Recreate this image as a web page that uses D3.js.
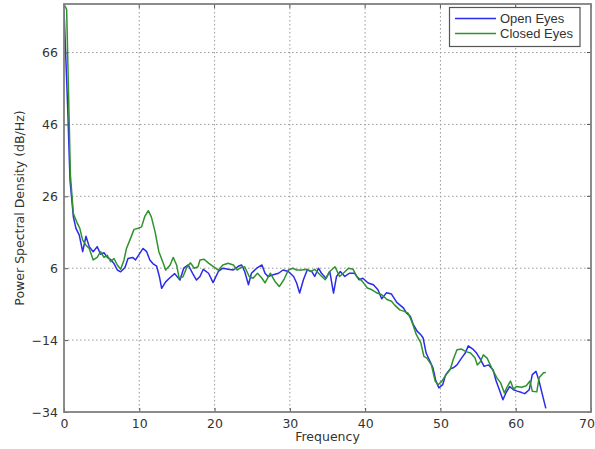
<!DOCTYPE html>
<html>
<head>
<meta charset="utf-8">
<script src="https://cdn.jsdelivr.net/npm/d3@7"></script>
<style>
  html, body { margin: 0; padding: 0; background: #fff; }
  svg { display: block; }
  .tick text { font-family: "DejaVu Sans", sans-serif; font-size: 12.5px; fill: #333; }
</style>
</head>
<body>
<svg id="chart" width="595" height="449"></svg>
<script>
// Welch PSD estimates, frequency in Hz, power in dB/Hz
const openFreq = [0, 0.5, 0.8, 1.24, 1.59, 2.03, 2.48, 2.92, 3.35, 3.88, 4.41, 4.86, 5.31, 5.75, 6.2, 6.64, 7.08, 7.53, 8.1, 8.5, 9.1, 9.5, 10, 10.5, 10.98, 11.4, 11.8, 12.3, 12.7, 12.97, 13.5, 14.1, 14.7, 15.4, 15.9, 16.5, 17.1, 17.6, 18.06, 18.5, 19.2, 19.8, 20.5, 21.1, 21.8, 22.5, 23.2, 23.6, 24.0, 24.5, 24.9, 25.6, 26.3, 26.7, 27.1, 27.8, 28.5, 29.1, 29.8, 30.5, 30.9, 31.3, 31.8, 32.3, 32.9, 33.3, 33.8, 34.2, 34.8, 35.3, 35.8, 36.2, 36.7, 37.3, 37.9, 38.6, 39.2, 39.7, 40.4, 41.1, 41.7, 42.2, 42.85, 43.5, 44.2, 44.6, 45.1, 45.5, 46.0, 46.4, 46.9, 47.4, 47.7, 48.1, 48.5, 49.0, 49.4, 49.8, 50.3, 50.7, 51.3, 51.7, 52.2, 52.8, 53.3, 53.7, 54.3, 54.8, 55.3, 55.8, 56.4, 57.0, 57.4, 57.9, 58.3, 58.7, 59.2, 59.7, 60.2, 60.8, 61.2, 61.8, 62.2, 62.7, 63.1, 64];
const openPsd = [78, 50, 30.5, 20.3, 17.1, 15.2, 10.6, 14.9, 12, 10.6, 12, 9.9, 10.3, 9, 8.4, 7.3, 5.5, 5, 6.2, 8.7, 9, 8.3, 9.9, 11.5, 10.6, 8.3, 7.3, 6.6, 3.4, 0.4, 2.2, 3.4, 4.5, 2.7, 6, 6.9, 4.5, 2.7, 3.7, 5.7, 4.6, 2, 5.1, 6, 5.7, 5.5, 6.6, 6.9, 5.1, 1.4, 4.6, 6, 6.9, 4.6, 3.7, 4.2, 4.6, 5.5, 5.1, 3.7, 1.9, -0.9, 2.8, 5.5, 5.1, 3.7, 6, 4.6, 3.2, 5.1, -0.9, 3.7, 5.1, 3.7, 4.6, 4.6, 2.8, 3.2, 1.9, 1.4, 0, -2.5, -0.8, -1.2, -3.5, -4.2, -5.1, -6.5, -7.4, -9.7, -11.5, -12.5, -13.4, -17.6, -19.4, -21.7, -25.4, -27.3, -26.4, -23.6, -22, -21.7, -20.9, -19, -17.6, -15.6, -16.5, -17.6, -19.3, -21.3, -20.9, -22.3, -25.4, -28.2, -30.6, -28.7, -26.9, -27.8, -28.2, -28.6, -28.9, -27.8, -23.6, -22.7, -25.4, -33];

const closedFreq = [0, 0.35, 0.6, 0.85, 1.24, 1.68, 2.1, 2.48, 2.92, 3.35, 3.88, 4.41, 4.86, 5.31, 5.75, 6.2, 6.64, 7.08, 7.53, 7.97, 8.3, 8.84, 9.3, 9.87, 10.3, 10.75, 11.2, 11.6, 12.1, 12.6, 13.2, 13.5, 14.1, 14.5, 14.96, 15.3, 15.8, 16.3, 16.8, 17.3, 17.8, 18.06, 18.6, 19.2, 19.8, 20.5, 21.1, 21.8, 22.5, 23.0, 23.5, 24.0, 24.6, 25.1, 25.7, 26.3, 26.7, 27.4, 28.0, 28.6, 29.2, 29.8, 30.4, 30.9, 31.6, 32.3, 32.8, 33.3, 34.0, 34.7, 35.3, 36.0, 36.6, 37.1, 37.8, 38.4, 38.9, 39.6, 40.3, 40.9, 41.6, 42.2, 42.9, 43.5, 43.9, 44.6, 45.2, 45.7, 46.2, 46.8, 47.4, 47.8, 48.2, 48.8, 49.3, 49.7, 50.2, 50.6, 51.3, 51.7, 52.2, 52.8, 53.4, 54.0, 54.6, 54.9, 55.3, 55.7, 56.2, 56.8, 57.5, 58.0, 58.5, 58.8, 59.3, 59.7, 60.1, 60.8, 61.4, 61.9, 62.2, 62.8, 63.1, 63.7, 64];
const closedPsd = [79.4, 78, 55, 32, 21.2, 18.9, 17.1, 13.8, 12.4, 11.5, 8.3, 9, 10.6, 9, 9.6, 7.8, 8.7, 6.9, 5.7, 8.3, 11.5, 14.3, 16.8, 17.1, 17.5, 20.5, 22, 20.3, 16.1, 10.6, 7.3, 5.5, 6.9, 9, 6.9, 3.2, 3.6, 6.2, 7.5, 6, 6.4, 8.3, 8.5, 7.4, 6.5, 5.5, 6.9, 7.4, 6.9, 5.5, 6.2, 6.4, 3.7, 3.2, 4.6, 3.2, 1.9, 4.6, 2.4, 0.9, 2.8, 5.5, 6, 5.5, 5.5, 5.7, 5.1, 5.7, 4.2, 2.8, 5.1, 6.4, 3.7, 4.6, 6, 5.7, 3.7, 2.4, 0.5, 0, -0.9, -1.4, -2.7, -3.2, -4.2, -5.6, -6, -6.5, -8.8, -12.5, -14.8, -18.5, -19, -20.9, -25.4, -26.4, -25.4, -24.1, -22.2, -19.4, -16.7, -16.5, -17.2, -17.6, -19, -20.9, -20, -18.1, -19, -21.7, -24.5, -25.9, -28.7, -27.3, -25.4, -27.6, -26.9, -27.1, -26.7, -25.4, -28.2, -28.4, -24.5, -23.1, -23];

const xTicks = [0, 10, 20, 30, 40, 50, 60, 70];
const yTicks = [-34, -14, 6, 26, 46, 66];
const seriesNames = ["Open Eyes", "Closed Eyes"];
const seriesColors = ["#2b2bea", "#2f922f"];

const svg = d3.select("#chart");
const m = { left: 64, right: 4, top: 4, bottom: 37 };
const W = 595, H = 449;
const pw = W - m.left - m.right, ph = H - m.top - m.bottom;

const x = d3.scaleLinear().domain([0, 70]).range([m.left, m.left + pw]);
const y = d3.scaleLinear().domain([-34, 79.5]).range([m.top + ph, m.top]);

// dotted grid
const grid = svg.append("g");
grid.selectAll("line.gx").data(xTicks.slice(1, -1)).join("line")
  .attr("x1", d => x(d)).attr("x2", d => x(d))
  .attr("y1", m.top).attr("y2", m.top + ph)
  .attr("stroke", "#9a9a9a").attr("stroke-width", 1).attr("stroke-dasharray", "1.5,2.5");
grid.selectAll("line.gy").data(yTicks.slice(1)).join("line")
  .attr("y1", d => y(d)).attr("y2", d => y(d))
  .attr("x1", m.left).attr("x2", m.left + pw)
  .attr("stroke", "#9a9a9a").attr("stroke-width", 1).attr("stroke-dasharray", "1.5,2.5");

// spectra, clipped to the axes box
svg.append("defs").append("clipPath").attr("id", "plot")
  .append("rect").attr("x", m.left).attr("y", m.top).attr("width", pw).attr("height", ph);

const line = d3.line().x(d => x(d[0])).y(d => y(d[1]));
const series = [
  d3.zip(openFreq, openPsd),
  d3.zip(closedFreq, closedPsd)
];
// open eyes first, closed eyes drawn over it
series.forEach((s, i) => {
  svg.append("path").datum(s)
    .attr("clip-path", "url(#plot)")
    .attr("fill", "none").attr("stroke", seriesColors[i])
    .attr("stroke-width", 1.5).attr("stroke-linejoin", "round")
    .attr("d", line);
});

// axes
const xAxis = svg.append("g").attr("transform", `translate(0,${m.top + ph})`)
  .call(d3.axisBottom(x).tickValues(xTicks).tickFormat(d3.format("d")).tickSize(-4).tickPadding(7));
const yAxis = svg.append("g").attr("transform", `translate(${m.left},0)`)
  .call(d3.axisLeft(y).tickValues(yTicks).tickFormat(d => d < 0 ? "\u2212" + Math.abs(d) : d).tickSize(-4).tickPadding(6));
[xAxis, yAxis].forEach(a => {
  a.select(".domain").remove();
  a.selectAll(".tick line").attr("stroke", "#555");
});
// keep the last x label inside the page
xAxis.selectAll(".tick text").filter(d => d === 70)
  .attr("text-anchor", "end").attr("x", W - x(70) - 0.5);

// top/right inward ticks
svg.append("g").selectAll("line").data(xTicks).join("line")
  .attr("x1", d => x(d)).attr("x2", d => x(d)).attr("y1", m.top).attr("y2", m.top + 4)
  .attr("stroke", "#555");
svg.append("g").selectAll("line").data(yTicks).join("line")
  .attr("x1", m.left + pw).attr("x2", m.left + pw - 4).attr("y1", d => y(d)).attr("y2", d => y(d))
  .attr("stroke", "#555");

// frame
svg.append("rect").attr("x", m.left).attr("y", m.top).attr("width", pw).attr("height", ph)
  .attr("fill", "none").attr("stroke", "#808080").attr("stroke-width", 1.8);

// axis labels
svg.append("text").attr("x", m.left + pw / 2).attr("y", 441).attr("text-anchor", "middle")
  .attr("font-family", "DejaVu Sans, sans-serif").attr("font-size", 12.5).attr("fill", "#333")
  .text("Frequency");
svg.append("text").attr("transform", `translate(24,${m.top + ph / 2}) rotate(-90)`)
  .attr("text-anchor", "middle")
  .attr("font-family", "DejaVu Sans, sans-serif").attr("font-size", 12.5).attr("fill", "#333")
  .text("Power Spectral Density (dB/Hz)");

// legend
const lg = svg.append("g");
lg.append("rect").attr("x", 449.5).attr("y", 7.5).attr("width", 130.5).attr("height", 39)
  .attr("fill", "#fff").attr("stroke", "#555").attr("stroke-width", 1.2);
seriesNames.forEach((n, i) => {
  const yy = 18.5 + i * 15;
  lg.append("line").attr("x1", 455).attr("x2", 496).attr("y1", yy).attr("y2", yy)
    .attr("stroke", seriesColors[i]).attr("stroke-width", 1.5);
  lg.append("text").attr("x", 500).attr("y", yy + 4.5)
    .attr("font-family", "Liberation Sans, Arial, sans-serif").attr("font-size", 13)
    .attr("fill", "#333").text(n);
});
</script>
</body>
</html>
